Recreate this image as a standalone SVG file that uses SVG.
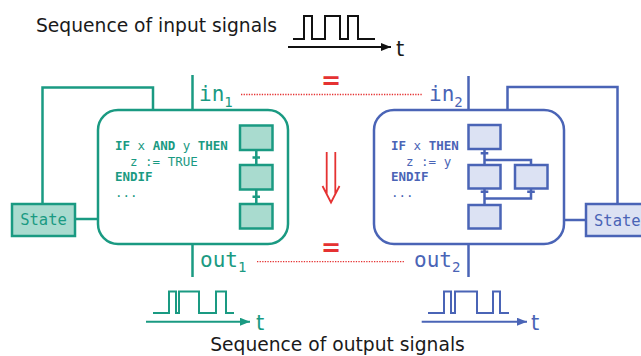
<svg xmlns="http://www.w3.org/2000/svg" width="641" height="356" viewBox="0 0 641 356">
  <defs>
    <style>
      .g { stroke: #1a9a82; fill: none; stroke-width: 2.5; }
      .b { stroke: #4a64b6; fill: none; stroke-width: 2.5; }
      .gf { fill: #a9dbcf; stroke: #1a9a82; stroke-width: 2.5; }
      .bf { fill: #dce2f3; stroke: #4a64b6; stroke-width: 2.5; }
      .wave { fill: none; stroke-width: 2; }
      .mono { font-family: "DejaVu Sans Mono", "Liberation Mono", monospace; }
      .sans { font-family: "DejaVu Sans", "Liberation Sans", sans-serif; }
      .code { font-family: "DejaVu Sans Mono", "Liberation Mono", monospace; font-size: 12.5px; }
      .kw { font-weight: bold; }
      .red { stroke: #e53232; fill: none; }
      .eq { font-family: "DejaVu Sans", "Liberation Sans", sans-serif; font-size: 24px; font-weight: bold; fill: #e53232; text-anchor: middle; }
    </style>
    <marker id="ahK" markerUnits="userSpaceOnUse" markerWidth="10" markerHeight="8" refX="10" refY="4" orient="auto">
      <path d="M0,0 L10,4 L0,8 z" fill="#111"/>
    </marker>
    <marker id="ahG" markerUnits="userSpaceOnUse" markerWidth="10" markerHeight="8" refX="10" refY="4" orient="auto">
      <path d="M0,0 L10,4 L0,8 z" fill="#1a9a82"/>
    </marker>
    <marker id="ahB" markerUnits="userSpaceOnUse" markerWidth="10" markerHeight="8" refX="10" refY="4" orient="auto">
      <path d="M0,0 L10,4 L0,8 z" fill="#4a64b6"/>
    </marker>
  </defs>
  <rect width="641" height="356" fill="#ffffff"/>

  <!-- Input signal -->
  <g id="input-signal">
    <text class="sans" x="36" y="31.7" font-size="18.7" fill="#1a1a1a">Sequence of input signals</text>
    <path class="wave" stroke="#111" d="M293,39 H304 V16 H312 V39 H325 V16 H340 V39 H348 V16 H358 V39 H375"/>
    <line x1="288" y1="47" x2="391" y2="47" stroke="#111" stroke-width="2" marker-end="url(#ahK)"/>
    <text class="sans" x="396" y="55.5" font-size="21" fill="#1a1a1a">t</text>
  </g>

  <!-- Connectors -->
  <g id="connectors">
    <!-- green -->
    <line class="g" x1="192.5" y1="75" x2="192.5" y2="110"/>
    <line class="g" x1="192.5" y1="244" x2="192.5" y2="277"/>
    <polyline class="g" points="153,110 153,87.5 42.5,87.5 42.5,204"/>
    <line class="g" x1="75" y1="219" x2="98" y2="219"/>
    <!-- blue -->
    <line class="b" x1="468.5" y1="76" x2="468.5" y2="110"/>
    <line class="b" x1="468.5" y1="244" x2="468.5" y2="277"/>
    <polyline class="b" points="507.5,110 507.5,87 617.5,87 617.5,204"/>
    <line class="b" x1="564" y1="220" x2="586" y2="220"/>
    <!-- equivalence lines -->
    <line class="red" x1="241" y1="94.5" x2="422" y2="94.5" stroke-width="1.3" stroke-dasharray="1.3,1.3"/>
    <line class="red" x1="257" y1="261.7" x2="405" y2="261.7" stroke-width="1.3" stroke-dasharray="1.3,1.3"/>
    <!-- double arrow -->
    <path class="red" stroke-width="1.8" d="M326.7,152 V194 M335.3,152 V194 M322.5,186 L331,202.5 L339.5,186"/>
  </g>

  <!-- Labels -->
  <g id="labels">
    <text class="mono" x="199" y="101" font-size="21" fill="#1a9a82">in<tspan font-size="14" dy="5.5">1</tspan></text>
    <text class="mono" x="429" y="101" font-size="21" fill="#4a64b6">in<tspan font-size="14" dy="5.5">2</tspan></text>
    <text class="mono" x="200" y="266.7" font-size="21" fill="#1a9a82">out<tspan font-size="14" dy="5.5">1</tspan></text>
    <text class="mono" x="414" y="266.7" font-size="21" fill="#4a64b6">out<tspan font-size="14" dy="5.5">2</tspan></text>
    <text class="eq" x="331" y="88.7">=</text>
    <text class="eq" x="331" y="255.7">=</text>
  </g>

  <!-- Green module -->
  <g id="module1">
    <rect class="g" x="98" y="110" width="190" height="134" rx="20"/>
    <g class="code" fill="#1a9a82">
      <text x="115" y="149.5"><tspan class="kw">IF</tspan> x <tspan class="kw">AND</tspan> y <tspan class="kw">THEN</tspan></text>
      <text x="130" y="165.5">z := TRUE</text>
      <text x="115" y="181" class="kw">ENDIF</text>
      <text x="115" y="196.5">...</text>
    </g>
    <rect class="gf" x="240" y="125.5" width="32.5" height="24.5"/>
    <rect class="gf" x="240" y="165" width="32.5" height="24.5"/>
    <rect class="gf" x="240" y="204" width="32.5" height="24.5"/>
    <path class="g" stroke-width="2" d="M256.3,150 V165 M252.5,157.5 H260 M256.3,189.5 V204 M252.5,196.7 H260"/>
  </g>

  <!-- Green state -->
  <g id="state1">
    <rect class="gf" x="12" y="204" width="63" height="32" fill="#b6e1d7"/>
    <text class="mono" x="43.5" y="225" font-size="15.5" fill="#1a9a82" text-anchor="middle">State</text>
  </g>

  <!-- Blue module -->
  <g id="module2">
    <rect class="b" x="374" y="110" width="190" height="134" rx="20"/>
    <g class="code" fill="#4a64b6">
      <text x="391" y="150"><tspan class="kw">IF</tspan> x <tspan class="kw">THEN</tspan></text>
      <text x="406" y="165.5">z := y</text>
      <text x="391" y="181" class="kw">ENDIF</text>
      <text x="391" y="196.5">...</text>
    </g>
    <rect class="bf" x="468.5" y="125" width="32" height="24"/>
    <rect class="bf" x="468.5" y="165" width="32" height="23.5"/>
    <rect class="bf" x="515" y="165" width="32.5" height="23.5"/>
    <rect class="bf" x="468.5" y="205" width="32" height="23.5"/>
    <path class="b" stroke-width="2" d="M484.5,149 V165 M480.7,153.3 H488.3 M484.5,160 H531 V165 M484.5,188.5 V205 M480.7,191.7 H488.3 M531,188.5 V198.5 H484.5 M527.2,191.7 H534.8"/>
  </g>

  <!-- Blue state -->
  <g id="state2">
    <rect class="bf" x="586" y="204" width="70" height="32"/>
    <text class="mono" x="594" y="225.5" font-size="15.5" fill="#4a64b6">State</text>
  </g>

  <!-- Output signals -->
  <g id="output-signals">
    <path class="wave" stroke="#1a9a82" d="M153,313 H169 V291.5 H176 V313 H179 V291.5 H199 V313 H216 V291.5 H226 V313 H234"/>
    <line x1="146" y1="321.7" x2="250" y2="321.7" stroke="#1a9a82" stroke-width="2" marker-end="url(#ahG)"/>
    <text class="sans" x="256" y="330" font-size="21" fill="#1a9a82">t</text>
    <path class="wave" stroke="#4a64b6" d="M428,313 H444 V291.5 H451 V313 H455 V291.5 H477 V313 H493 V291.5 H500 V313 H509"/>
    <line x1="421.7" y1="321.7" x2="527" y2="321.7" stroke="#4a64b6" stroke-width="2" marker-end="url(#ahB)"/>
    <text class="sans" x="531" y="330" font-size="21" fill="#4a64b6">t</text>
    <text class="sans" x="337.5" y="351.3" font-size="18.7" fill="#1a1a1a" text-anchor="middle">Sequence of output signals</text>
  </g>
</svg>
